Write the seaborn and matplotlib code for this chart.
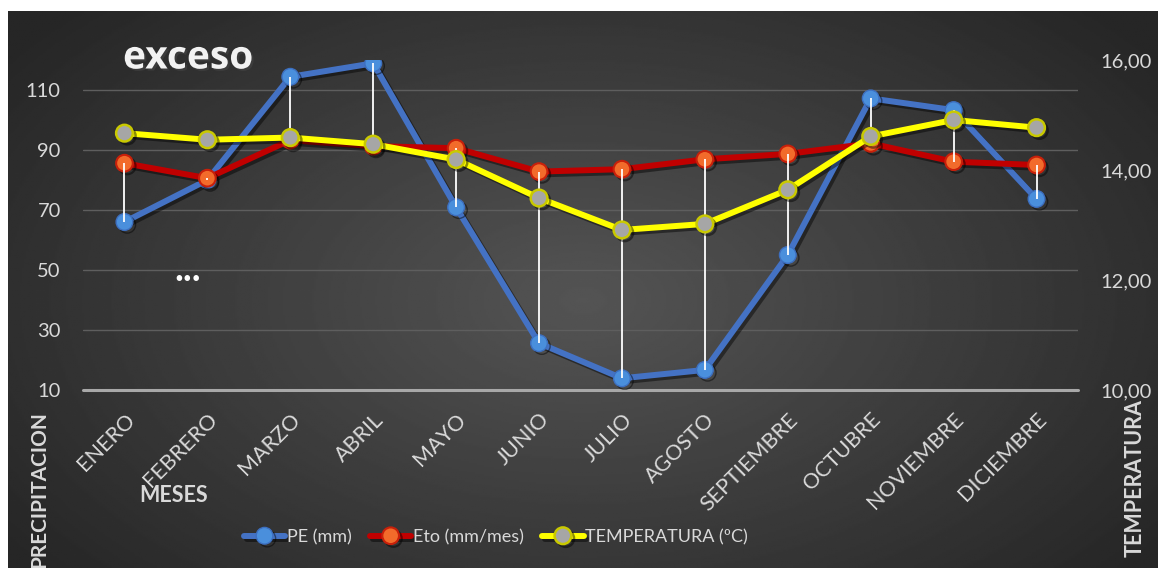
import numpy as np
import pandas as pd
import matplotlib
matplotlib.use("Agg")
import matplotlib.pyplot as plt
import matplotlib.patheffects as pe
import seaborn as sns

# Datos
meses = ["ENERO", "FEBRERO", "MARZO", "ABRIL", "MAYO", "JUNIO", "JULIO",
         "AGOSTO", "SEPTIEMBRE", "OCTUBRE", "NOVIEMBRE", "DICIEMBRE"]
pe_mm = [66.0, 80.0, 114.4, 118.9, 70.9, 25.6, 13.9, 16.7, 55.0, 107.2, 103.3, 73.7]
eto_mm = [85.6, 80.6, 93.3, 91.3, 90.6, 82.8, 83.6, 86.9, 88.7, 92.2, 86.1, 85.0]
temp_c = [14.67, 14.55, 14.59, 14.47, 14.19, 13.49, 12.91, 13.02, 13.64, 14.61, 14.91, 14.77]
precip_ticks = [10, 30, 50, 70, 90, 110]
temp_ticks = [10, 12, 14, 16]

df = pd.DataFrame({"mes": np.arange(len(meses)), "pe": pe_mm, "eto": eto_mm, "temp": temp_c})

sns.set_theme(style="dark")
plt.rcParams['font.family'] = ['Lato', 'DejaVu Sans']
txtColor = '#d9d9d9'

W, H = 1158, 568
fig = plt.figure(figsize=(W / 100, H / 100), dpi=100)
fig.patch.set_facecolor('white')

# Fondo con degradado radial
bg = fig.add_axes([8 / W, 0, 1 - 8 / W, 1 - 11 / H])
yy, xx = np.mgrid[0:1:300j, 0:1:600j]
r = np.sqrt(((xx - 0.5) / 0.62) ** 2 + ((yy - 0.52) / 0.75) ** 2)
r = np.clip(r, 0, 1)
shade = 0.33 - 0.18 * r
bg.imshow(shade, cmap='gray', vmin=0, vmax=1, aspect='auto', extent=[0, 1, 0, 1])
bg.set_axis_off()
bg.set_zorder(-5)

# Eje principal (precipitacion)
ax = fig.add_axes([83 / W, 1 - 390 / H, 995 / W, 330 / H])
ax.set_facecolor('none')
shadow = [pe.SimpleLineShadow(offset=(2, -2), shadow_color='black', alpha=0.45), pe.Normal()]

sns.lineplot(data=df, x="mes", y="pe", ax=ax, color='#4472c4', linewidth=4.3,
             marker='o', markersize=12, markerfacecolor='#4a8fdc', markeredgecolor='#3d6fc0',
             markeredgewidth=1, path_effects=shadow, label='PE (mm)', legend=False, zorder=3)
sns.lineplot(data=df, x="mes", y="eto", ax=ax, color='#c00000', linewidth=4.3,
             marker='o', markersize=12, markerfacecolor='#f26b2b', markeredgecolor='#c8200a',
             markeredgewidth=1.5, path_effects=shadow, label='Eto (mm/mes)', legend=False, zorder=4)

# Lineas max-min entre PE y Eto
lo = np.minimum(pe_mm, eto_mm)
hi = np.maximum(pe_mm, eto_mm)
ax.vlines(df["mes"], lo, hi, color='white', linewidth=1.3, zorder=5)

ax.set_xlim(-0.5, len(meses) - 0.5)
ax.set_ylim(10, 120)
ax.set_yticks(precip_ticks)
ax.grid(axis='y', color='#5e5e5e', linewidth=1)
ax.grid(axis='x', visible=False)
ax.axhline(10, color='#a8a8a8', linewidth=2.2, clip_on=False, zorder=2)
for s in ax.spines.values():
    s.set_visible(False)
ax.set_xticks(df["mes"])
ax.set_xticklabels(meses, rotation=45, ha='right', rotation_mode='anchor')
ax.tick_params(axis='x', colors=txtColor, labelsize=15.5, length=0, pad=14)
ax.tick_params(axis='y', colors=txtColor, labelsize=14.5, length=0, pad=16)
ax.set_xlabel('')
ax.set_ylabel('')

# Eje secundario (temperatura)
ax2 = ax.twinx()
sns.lineplot(data=df, x="mes", y="temp", ax=ax2, color='#ffff00', linewidth=4.3,
             marker='o', markersize=12, markerfacecolor='#a6a6a6', markeredgecolor='#c9c900',
             markeredgewidth=1.8, path_effects=shadow, label='TEMPERATURA (ºC)', legend=False, zorder=3)
ax2.set_ylim(10, 16)
ax2.set_yticks(temp_ticks)
ax2.set_yticklabels([f"{t:.2f}".replace('.', ',') for t in temp_ticks])
ax2.tick_params(axis='y', colors=txtColor, labelsize=14.5, length=0, pad=16)
ax2.grid(False)
ax2.set_ylabel('')
for s in ax2.spines.values():
    s.set_visible(False)

# Textos
fig.text(123 / W, 1 - 58 / H, 'exceso', color='#f2f2f2', fontsize=28, fontweight='bold',
         ha='left', va='center', family=['Open Sans', 'DejaVu Sans'],
         path_effects=[pe.withSimplePatchShadow(offset=(1.5, -1.5), alpha=0.5)])
fig.text(188 / W, 1 - 270 / H, '...', color='white', fontsize=27, fontweight='bold',
         ha='center', va='center')
fig.text(174 / W, 1 - 496 / H, 'MESES', color=txtColor, fontsize=15.5, fontweight='bold',
         ha='center', va='center')
fig.text(39 / W, 1 - 490 / H, 'PRECIPITACION', color=txtColor, fontsize=15, fontweight='bold',
         ha='center', va='center', rotation=90)
fig.text(1135 / W, 1 - 478 / H, 'TEMPERATURA', color=txtColor, fontsize=15.5, fontweight='bold',
         ha='center', va='center', rotation=90)

# Leyenda
handles = ax.get_lines()[:2] + ax2.get_lines()[:1]
leg = fig.legend(handles, ['PE (mm)', 'Eto (mm/mes)', 'TEMPERATURA (ºC)'],
                 loc='center', bbox_to_anchor=(496 / W, 1 - 537 / H), ncol=3, frameon=False,
                 fontsize=13, handlelength=2.3, handletextpad=0.1, columnspacing=1.0)
for t in leg.get_texts():
    t.set_color(txtColor)

fig.savefig('out.png', dpi=100)
